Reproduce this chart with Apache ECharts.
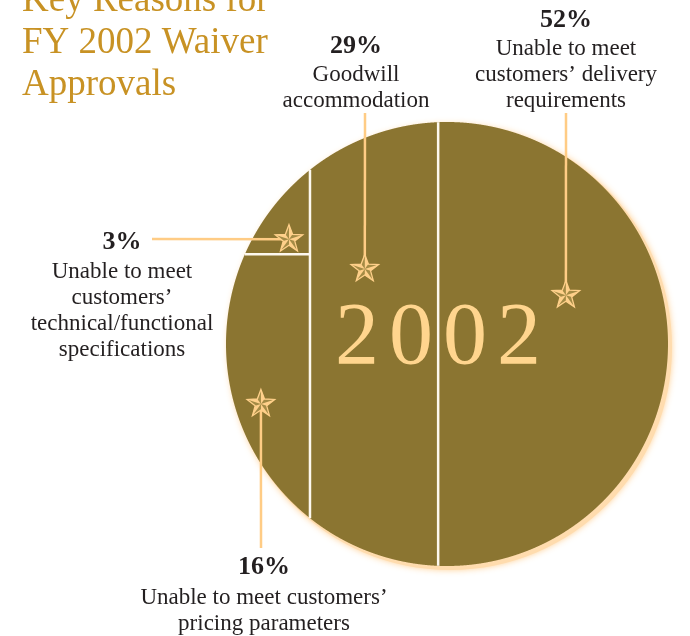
<!DOCTYPE html>
<html><head><meta charset="utf-8">
<script src="https://cdn.jsdelivr.net/npm/echarts@6/dist/echarts.min.js"></script>
<style>html,body{margin:0;padding:0;background:#fff}#c{width:690px;height:636px}</style>
</head><body><div id="c"></div>
<script>
// ---------- data ----------
const titleLines = ['Key Reasons for', 'FY 2002 Waiver', 'Approvals'];
const centerLabel = '2002';
const categories = [
  'Unable to meet\ncustomers\u2019 delivery\nrequirements',
  'Goodwill\naccommodation',
  'Unable to meet\ncustomers\u2019\ntechnical/functional\nspecifications',
  'Unable to meet customers\u2019\npricing parameters'
];
const percents = [52, 29, 3, 16];
// columns left-to-right; inside a column, top-to-bottom (indices into categories)
const columns = [[2, 3], [1], [0]];

// ---------- layout (not data) ----------
const starAnchors = [[76.9, 61.0], [31.4, 66.9], [14.25, 73.6], [7.9, 36.5]]; // axis units
const labelLayout = [
  { leader: [566, 113], x: 566, pctY: 20, textY: 49 },
  { leader: [365, 113], x: 356, pctY: 46, textY: 75 },
  { leader: [152, 239], x: 122, pctY: 242, textY: 272 },
  { leader: [261, 548], x: 264, pctY: 567, textY: 598 }
];

const FILL = '#8b7531';
const PEACH = '#ffd08a';
const SEP = '#fdf8ee';
const TEXT = '#231f20';
const FONT = "'Liberation Serif', 'DejaVu Serif', serif";

const XC = 50, YC = 50, R = 50;
function circTop(x) { const d = R * R - (x - XC) * (x - XC); return d > 0 ? YC + Math.sqrt(d) : YC; }
function circBot(x) { const d = R * R - (x - XC) * (x - XC); return d > 0 ? YC - Math.sqrt(d) : YC; }
function circHalfW(y) { const d = R * R - (y - YC) * (y - YC); return d > 0 ? Math.sqrt(d) : 0; }

function areaAbove(x0, x1, h) {
  let s = 0; const n = 3000; const dx = (x1 - x0) / n;
  for (let i = 0; i < n; i++) {
    const x = x0 + (i + 0.5) * dx;
    const t = circTop(x), b = Math.max(h, circBot(x));
    if (t > b) s += (t - b) * dx;
  }
  return s;
}
function splitHeight(x0, x1, target) {
  let lo = 0, hi = 100;
  for (let it = 0; it < 60; it++) {
    const mid = (lo + hi) / 2;
    if (areaAbove(x0, x1, mid) > target) lo = mid; else hi = mid;
  }
  return (lo + hi) / 2;
}

// build segment rectangles (in axis units) from the percentages
const segData = new Array(categories.length);
let cursor = 0;
columns.forEach(col => {
  const w = col.reduce((s, i) => s + percents[i], 0);
  const x0 = cursor, x1 = cursor + w;
  const total = areaAbove(x0, x1, 0);
  let yt = 100, acc = 0;
  col.forEach((i, k) => {
    acc += percents[i];
    const yb = k === col.length - 1 ? 0 : splitHeight(x0, x1, total * acc / w);
    segData[i] = [x0, x1, yb, yt, i];
    yt = yb;
  });
  cursor = x1;
});

function regionPolygon(x0, x1, yb, yt) {
  const xs = [x0, x1];
  for (let i = 0; i <= 2880; i++) {
    const x = XC + R * Math.cos(i / 2880 * Math.PI);
    if (x > x0 && x < x1) xs.push(x);
  }
  for (let i = 1; i < 300; i++) xs.push(x0 + (x1 - x0) * i / 300);
  [yb, yt].forEach(y => { const hw = circHalfW(y); [XC - hw, XC + hw].forEach(x => { if (x > x0 && x < x1) xs.push(x); }); });
  xs.sort((a, b) => a - b);
  const top = [], bot = [];
  xs.forEach(x => {
    const t = Math.min(yt, circTop(x)), b = Math.max(yb, circBot(x));
    if (t >= b) { top.push([x, t]); bot.push([x, b]); }
  });
  return top.concat(bot.reverse());
}

function renderSegment(params, api) {
  const x0 = api.value(0), x1 = api.value(1), yb = api.value(2), yt = api.value(3);
  const poly = regionPolygon(x0, x1, yb, yt).map(p => api.coord(p));
  return { type: 'polygon', shape: { points: poly }, style: { fill: FILL } };
}

function renderSeparator(params, api) {
  const x0 = api.value(0), x1 = api.value(1), yb = api.value(2), yt = api.value(3);
  const children = [];
  if (x0 > 0) {
    const a = api.coord([x0, Math.max(yb, circBot(x0))]);
    const b = api.coord([x0, Math.min(yt, circTop(x0))]);
    children.push({ type: 'line', shape: { x1: a[0], y1: a[1], x2: b[0], y2: b[1] }, style: { stroke: SEP, lineWidth: 2.5 } });
  }
  if (yb > 0) {
    const hw = circHalfW(yb);
    const a = api.coord([Math.max(x0, XC - hw), yb]);
    const b = api.coord([Math.min(x1, XC + hw), yb]);
    children.push({ type: 'line', shape: { x1: a[0], y1: a[1], x2: b[0], y2: b[1] }, style: { stroke: SEP, lineWidth: 2.5 } });
  }
  return { type: 'group', children };
}

function renderGlow(params, api) {
  const c = api.coord([api.value(0), api.value(1)]);
  const s = api.size([R, R]);
  return { type: 'ellipse', shape: { cx: c[0] + 3, cy: c[1] + 3, rx: s[0] + 1, ry: s[1] + 1 },
    style: { fill: '#ffdcae', shadowBlur: 6, shadowColor: 'rgba(255,205,140,0.9)' } };
}

function starShapes(cx, cy, Ro) {
  const ri = Ro * 0.42, pts = [];
  for (let k = 0; k < 5; k++) {
    const a = -Math.PI / 2 + k * 2 * Math.PI / 5, b = a + Math.PI / 5;
    pts.push([cx + Ro * Math.cos(a), cy + Ro * Math.sin(a)]);
    pts.push([cx + ri * Math.cos(b), cy + ri * Math.sin(b)]);
  }
  const out = [{ type: 'polygon', shape: { points: pts }, style: { fill: '#a48b45', stroke: PEACH, lineWidth: 1.3 } }];
  for (let k = 0; k < 5; k++) {
    out.push({ type: 'polygon', shape: { points: [[cx, cy], pts[2 * k], pts[2 * k + 1]] }, style: { fill: PEACH } });
  }
  return out;
}

function renderAnno(params, api) {
  const i = params.dataIndex;
  const p = api.coord([api.value(0), api.value(1)]);
  const L = labelLayout[i];
  const children = [
    { type: 'line', shape: { x1: p[0], y1: p[1], x2: L.leader[0], y2: L.leader[1] }, style: { stroke: '#ffcc85', lineWidth: 2.5 } }
  ].concat(starShapes(p[0], p[1], 14.5));
  children.push({ type: 'text', x: L.x, y: L.pctY, style: {
    text: percents[i] + '%', fill: TEXT, font: "bold 26px " + FONT, align: 'center', verticalAlign: 'middle' } });
  children.push({ type: 'text', x: L.x, y: L.textY - 13, style: {
    text: categories[i], fill: TEXT, fontSize: 23, fontFamily: FONT, lineHeight: 26, align: 'center', verticalAlign: 'top' } });
  return { type: 'group', children };
}

const chart = echarts.init(document.getElementById('c'));
chart.setOption({
  backgroundColor: '#ffffff',
  animation: false,
  title: {
    text: titleLines.join('\n'), left: 22, top: -20, padding: 0,
    textStyle: { fontFamily: FONT, fontSize: 37, fontWeight: 'normal', color: '#c89224', lineHeight: 42 }
  },
  grid: { left: 226, top: 122, width: 442, height: 444 },
  xAxis: { type: 'value', min: 0, max: 100, show: false },
  yAxis: { type: 'value', min: 0, max: 100, show: false },
  graphic: [{
    type: 'text', x: 438, y: 340, z: 100,
    style: {
      text: centerLabel.split('').map(c => '{d|' + c + '}').join(''),
      align: 'center', verticalAlign: 'middle', fill: '#ffd58e',
      rich: { d: { fontFamily: FONT, fontSize: 88, fill: '#ffd58e', padding: [0, 5] } }
    }
  }],
  series: [
    { type: 'custom', name: 'glow', renderItem: renderGlow, data: [[XC, YC]], silent: true, z: 1 },
    { type: 'custom', name: 'segments', renderItem: renderSegment, data: segData, z: 2 },
    { type: 'custom', name: 'separators', renderItem: renderSeparator, data: segData, silent: true, z: 3 },
    { type: 'custom', name: 'labels', renderItem: renderAnno, data: starAnchors, z: 4 }
  ]
});
</script>
</body></html>
